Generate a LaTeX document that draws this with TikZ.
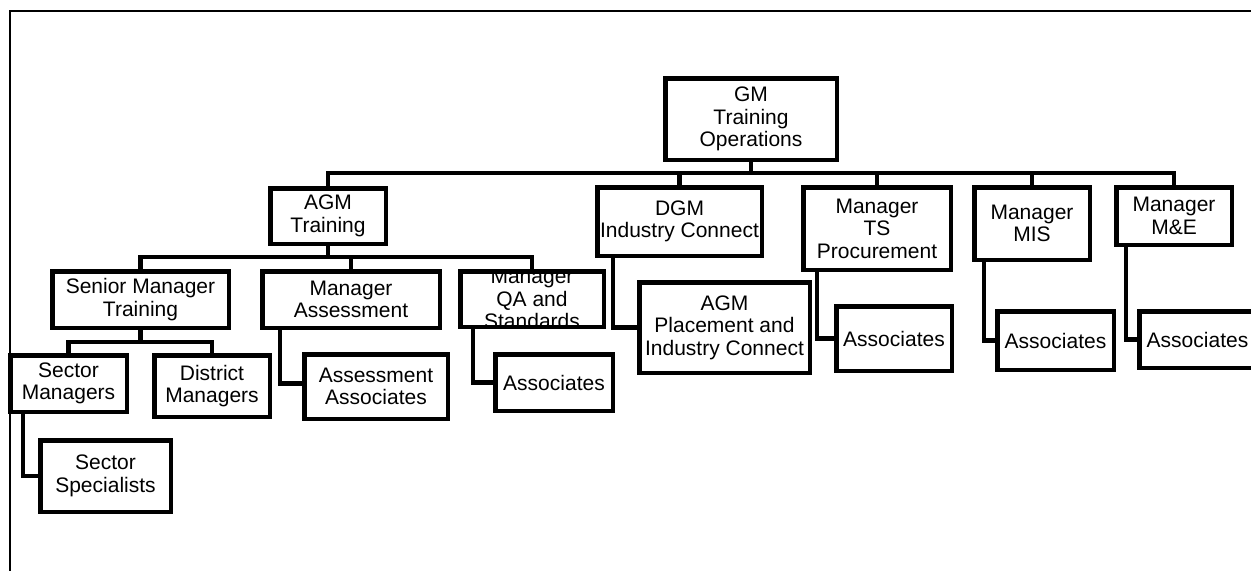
\documentclass[tikz,border=0pt]{standalone}
\usepackage{fontspec}
\setmainfont{Liberation Sans}
\newcommand\orgfont{\fontsize{21}{22.5}\selectfont}
\begin{document}
\begin{tikzpicture}[x=1pt,y=-1pt,
  box/.style={draw, line width=4.5pt, line join=miter, inner sep=0pt, align=center, font=\orgfont},
  sz/.style 2 args={minimum width=#1pt-4.5pt, minimum height=#2pt-4.5pt},
  link/.style={line width=4.5pt, line join=miter},
  frameline/.style={line width=1.5pt}]
\useasboundingbox (0,0) rectangle (1251,571);

% outer frame
\draw[frameline] (1251,11) -- (10,11) -- (10,571);

% levels of the chart
\coordinate (bar1) at (0,173);
\coordinate (bar2) at (0,257);
\coordinate (bar3) at (0,342);

% top
\node[box, sz={176}{86}] (gm) at (751,119) {GM\\Training\\Operations};

% first level
\node[box, sz={120}{60}] (agmt) at (328,216) {AGM\\Training};
\node[box, sz={169}{73}] (dgm) at (679.5,221.5) {DGM\\Industry Connect};
\node[box, sz={152}{87}] (ts) at (877,228.5) {Manager\\TS\\Procurement};
\node[box, sz={120}{77}] (mis) at (1032,223.5) {Manager\\MIS};
\node[box, sz={120}{62}] (me) at (1174,216) {Manager\\M\&E};

% second level
\node[box, sz={181}{61}] (smt) at (140.5,299.5) {Senior Manager\\Training};
\node[box, sz={182}{61}] (ma) at (351,299.5) {Manager\\Assessment};
\node[box, sz={148}{60}] (qa) at (532,299) {};
\begin{scope}
  \clip (qa.north west) rectangle (qa.south east);
  \node[align=center, font=\orgfont, inner sep=0pt] (qatext) at (qa.center) {Manager\\QA and\\Standards};
\end{scope}
\node[box, sz={175}{95}] (agmp) at (724.5,327.5) {AGM\\Placement and\\Industry Connect};
\node[box, sz={120}{69}] (tsas) at (894,338.5) {Associates};
\node[box, sz={121}{63}] (misas) at (1055.5,340.5) {Associates};
\node[box, sz={121}{61}] (meas) at (1197.5,339.5) {Associates};

% third level
\node[box, sz={121}{61}] (sm) at (68.5,383.5) {Sector\\Managers};
\node[box, sz={120}{66}] (dm) at (212,386) {District\\Managers};
\node[box, sz={148}{69}] (aa) at (376,386.5) {Assessment\\Associates};
\node[box, sz={122}{61}] (qaas) at (554,382.5) {Associates};

% fourth level
\node[box, sz={135}{76}] (ss) at (105.5,476) {Sector\\Specialists};

% tree connectors
\foreach \c in {agmt,dgm,ts,mis,me}
  \draw[link] (gm.south) -- (gm.south |- bar1) -| (\c.north);
\foreach \c in {smt,ma,qa}
  \draw[link] (agmt.south) -- (agmt.south |- bar2) -| (\c.north);
\foreach \c in {sm,dm}
  \draw[link] (smt.south) -- (smt.south |- bar3) -| (\c.north);

% side connectors
\draw[link] ([xshift=15pt]sm.south west) |- (ss.west);
\draw[link] ([xshift=20pt]ma.south west) |- ([yshift=3pt]aa.west);
\draw[link] ([xshift=15pt]qa.south west) |- (qaas.west);
\draw[link] ([xshift=18pt]dgm.south west) |- (agmp.west);
\draw[link] ([xshift=16pt]ts.south west) |- (tsas.west);
\draw[link] ([xshift=12pt]mis.south west) |- (misas.west);
\draw[link] ([xshift=12pt]me.south west) |- (meas.west);
\end{tikzpicture}
\end{document}
